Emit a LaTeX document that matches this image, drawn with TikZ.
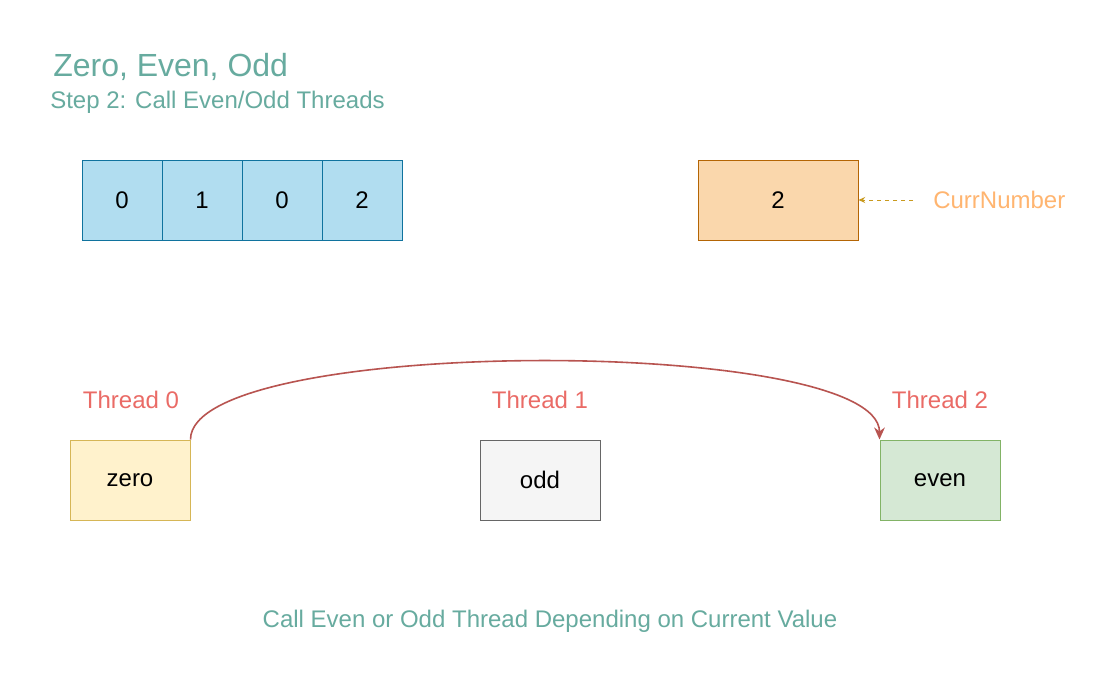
\documentclass[tikz,border=0pt]{standalone}
\usepackage{fontspec}
\setmainfont{Liberation Sans}
\usetikzlibrary{arrows.meta}
\definecolor{teal}{HTML}{67AB9F}
\definecolor{thr}{HTML}{EA6B66}
\definecolor{cnum}{HTML}{FFB570}
\definecolor{cnarrow}{HTML}{C99A1E}
\definecolor{arrfill}{HTML}{B1DDF0}
\definecolor{arrdraw}{HTML}{10739E}
\definecolor{curfill}{HTML}{FAD7AC}
\definecolor{curdraw}{HTML}{B46504}
\definecolor{zfill}{HTML}{FFF2CC}
\definecolor{zdraw}{HTML}{D6B656}
\definecolor{ofill}{HTML}{F5F5F5}
\definecolor{odraw}{HTML}{666666}
\definecolor{efill}{HTML}{D5E8D4}
\definecolor{edraw}{HTML}{82B366}
\definecolor{curve}{HTML}{B85450}
\tikzset{
  txt/.style={font=\fontsize{18}{20}\selectfont, inner sep=0pt},
  cell/.style={draw=arrdraw, fill=arrfill, line width=0.75pt, minimum width=60pt, minimum height=60pt, inner sep=0pt, txt},
  tbox/.style={line width=0.75pt, minimum width=90pt, minimum height=60pt, inner sep=0pt, txt},
  thlabel/.style={txt, text=thr},
}
\begin{document}
\begin{tikzpicture}[x=0.75pt, y=-0.75pt]
\useasboundingbox (0,0) rectangle (1100,700);
\fill[white] (0,0) rectangle (1100,700);
% titles
\node[txt, anchor=west, text=teal, font=\fontsize{24}{26}\selectfont] (title) at (53,67) {Zero, Even, Odd};
\node[txt, anchor=west, text=teal] (sub) at (50,102) {Step 2: Call Even/Odd Threads};
% array
\node[cell] (c0) at (122,200) {0};
\node[cell] (c1) at (202,200) {1};
\node[cell] (c2) at (282,200) {0};
\node[cell] (c3) at (362,200) {2};
% current number
\node[draw=curdraw, fill=curfill, line width=0.75pt, minimum width=120pt, minimum height=60pt, inner sep=0pt, txt] (cur) at (778,200) {2};
\node[txt, anchor=west, text=cnum] (cn) at (933,200) {CurrNumber};
\draw[cnarrow, dashed, line width=0.75pt, -{Stealth[length=5pt,width=4.5pt]}] ([xshift=-15]cn.west) -- (cur.east);
% threads
\node[thlabel] (t0) at (131,400) {Thread 0};
\node[thlabel] (t1) at (540,400) {Thread 1};
\node[thlabel] (t2) at (940,400) {Thread 2};
\node[tbox, draw=zdraw, fill=zfill] (zero) at (130,480) {zero};
\node[tbox, draw=odraw, fill=ofill] (odd) at (540,480) {odd};
\node[tbox, draw=edraw, fill=efill] (even) at (940,480) {even};
\draw[curve, line width=1.2pt, -{Stealth[length=9pt,width=8pt]}] (zero.north east) .. controls +(0,-104) and +(0,-104) .. (even.north west);
% bottom
\node[txt, text=teal] (bottom) at (550,621) {Call Even or Odd Thread Depending on Current Value};
\end{tikzpicture}
\end{document}
